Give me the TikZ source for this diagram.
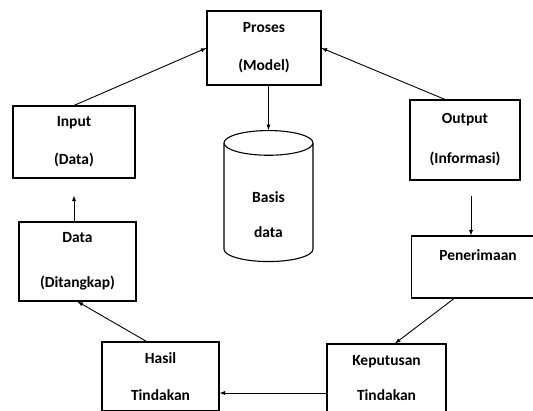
\documentclass[tikz,border=0pt]{standalone}
\usepackage{fontspec}
\setmainfont{Carlito}
\usetikzlibrary{arrows,shapes.geometric}

\begin{document}
\begin{tikzpicture}[x=1pt,y=-1pt]
    \tikzstyle{every node}=[font=\fontsize{15.5}{18}\selectfont\bfseries]
    \tikzstyle{blok}=[draw, line width=1.1pt, align=center, inner sep=0pt]
    \tikzstyle{panah}=[->, >=latex, line width=0.9pt]
    \useasboundingbox (0,0) rectangle (533,410);
    \clip (0,0) rectangle (533,410);
    % draw boxes
    \node[blok, minimum width=114pt, minimum height=74pt] (pro) at (264,48) {Proses\\[20pt](Model)};
    \node[blok, minimum width=122pt, minimum height=72pt] (inp) at (74,142) {Input\\[20pt](Data)};
    \node[blok, minimum width=110pt, minimum height=80pt] (out) at (465,140) {Output\\[22pt](Informasi)};
    \node[blok, minimum width=117pt, minimum height=79pt] (dat) at (77.5,261.5) {Data\\[27pt](Ditangkap)};
    \node[blok, minimum width=133pt, minimum height=62pt] (pen) at (478,267) {Penerimaan\\[6pt]\mbox{}};
    \node[blok, minimum width=117pt, minimum height=69pt] (has) at (160.5,376.5) {Hasil\\[19pt]Tindakan};
    \node[blok, minimum width=119pt, minimum height=68pt] (kep) at (386.5,378) {Keputusan\\[17pt]Tindakan};
    % draw database
    \node[blok, cylinder, shape border rotate=90, aspect=0.76, minimum width=89pt, minimum height=131pt] (db) at (268.5,202.5) {\mbox{}\\[17pt]Basis\\[17pt]data};
    % draw arrows
    \draw[panah] (inp.north) -- (pro.west);
    \draw[panah] ([xshift=-20pt]out.north) -- (pro.east);
    \draw[panah] (pro.south -| db.north) -- (db.north);
    \draw[panah, shorten <=15pt] ([xshift=6pt]out.south) -- ([xshift=6pt]out.south |- pen.north);
    \draw[panah] ([xshift=-24pt]pen.south) -- ([xshift=8.5pt]kep.north);
    \draw[panah] ([yshift=-15pt]kep.west) -- ([yshift=-15pt]kep.west -| has.east);
    \draw[panah] ([xshift=-14pt]has.north) -- (dat.south);
    \draw[panah, shorten >=17pt] (dat.north -| inp.south) -- (inp.south);
\end{tikzpicture}
\end{document}
